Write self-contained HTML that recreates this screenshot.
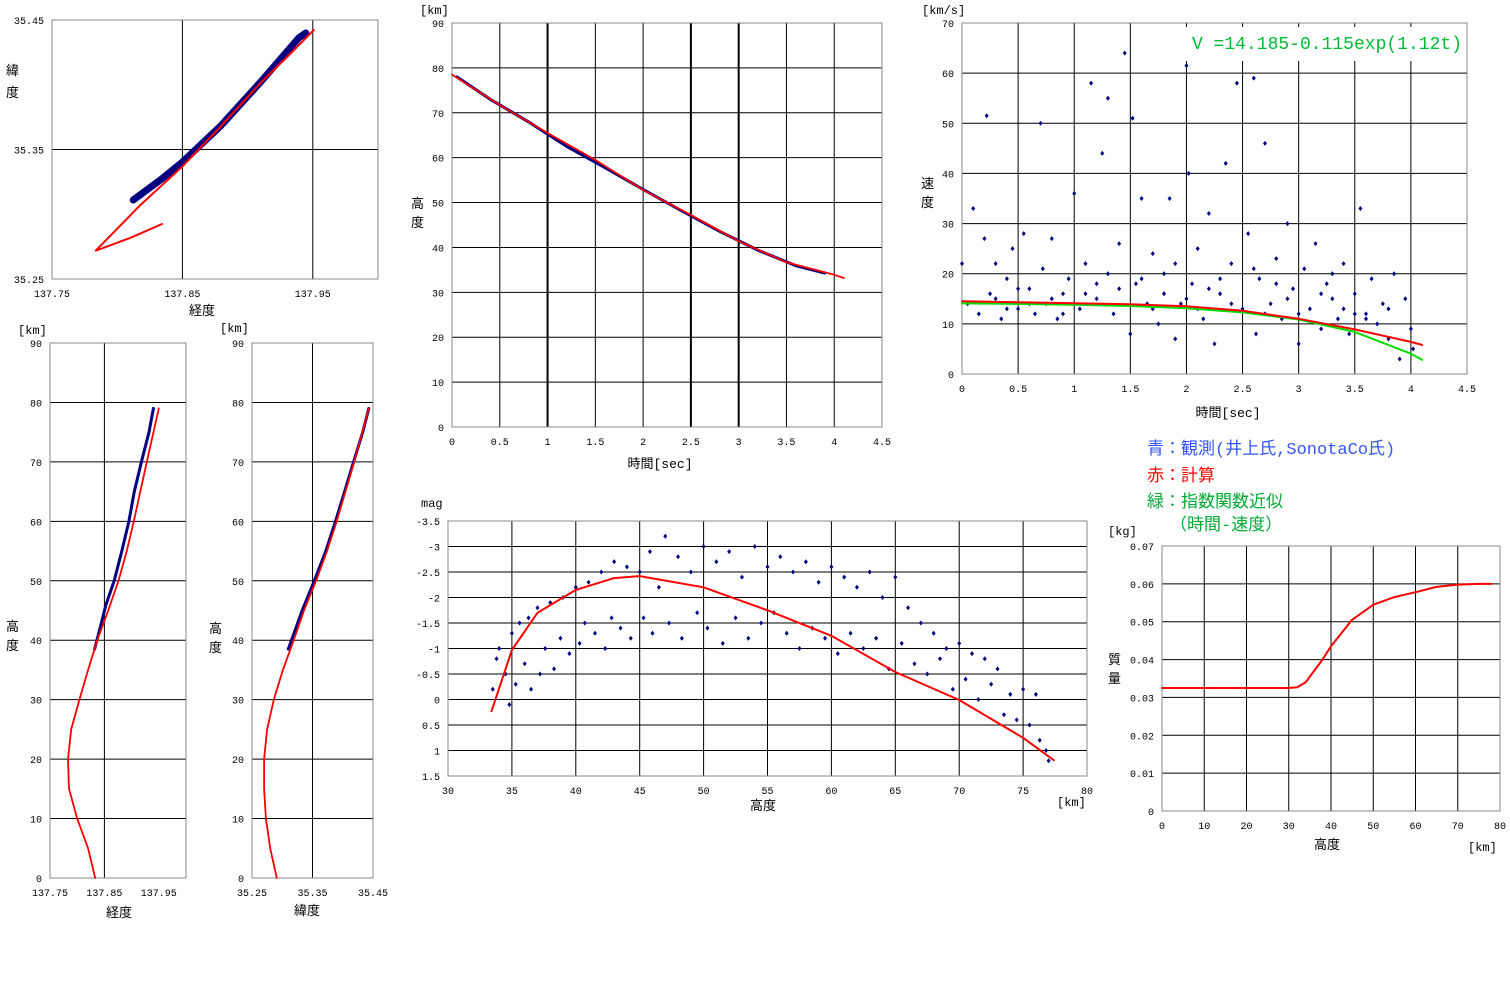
<!DOCTYPE html>
<html><head><meta charset="utf-8">
<style>
html,body{margin:0;padding:0;background:#fff;}
svg{display:block;font-family:"Liberation Mono","Noto Sans CJK JP",monospace;}
.tk{font-size:10px;fill:#000;}
.tt{font-size:13px;fill:#000;}
</style></head>
<body>
<svg id="s" width="1510" height="1000" viewBox="0 0 1510 1000" xmlns="http://www.w3.org/2000/svg"></svg>
<script>
// ---- data ----
const llRedLon=[137.8344,137.81,137.7892,137.7836,137.8177,137.8498,137.8792,137.91,137.9305,137.9508];
const llRedLat=[35.2925,35.2817,35.2739,35.2719,35.3071,35.3367,35.3676,35.4014,35.4217,35.4423];
const llObsLon=[137.8123,137.833,137.85,137.8792,137.91,137.9392,137.9446];
const llObsLat=[35.311,35.3264,35.3403,35.3681,35.4021,35.4361,35.44];

const taTime=[0,0.5,1,1.5,2,2.5,3,3.5,4,4.1];
const taAlt=[78.5,71.7,65.5,59.5,52.8,47.2,41.4,36.7,33.9,33.2];
const taObsTime=[0.05,0.4,0.8,1.2,1.6,2.0,2.4,2.8,3.2,3.6,3.9];
const taObsAlt=[78.0,73.0,68.0,62.5,57.8,52.9,48.2,43.6,39.4,35.9,34.3];

const vT=[0,0.05,0.1,0.15,0.2,0.22,0.25,0.3,0.35,0.4,0.45,0.5,0.55,0.6,0.65,0.7,0.72,0.75,0.8,0.85,0.9,0.95,1.0,1.05,1.1,1.15,1.2,1.25,1.3,1.35,1.4,1.45,1.5,1.52,1.55,1.6,1.65,1.7,1.75,1.8,1.85,1.9,1.95,2.0,2.02,2.05,2.1,2.15,2.2,2.25,2.3,2.35,2.4,2.45,2.5,2.55,2.6,2.62,2.65,2.7,2.75,2.8,2.85,2.9,2.95,3.0,3.05,3.1,3.15,3.2,3.25,3.3,3.35,3.4,3.45,3.5,3.55,3.6,3.65,3.7,3.75,3.8,3.85,3.9,3.95,4.0,4.02,0.3,0.6,0.9,1.2,1.4,1.6,1.8,2.0,2.2,2.4,2.6,2.8,3.0,3.2,3.4,3.6,3.8,1.1,1.7,2.3,2.9,3.5,0.8,0.4,1.3,2.7,3.3,2.1,1.9,0.5];
const vV=[22,14,33,12,27,51.5,16,22,11,19,25,13,28,17,12,50,21,14,27,11,16,19,36,13,22,58,15,44,55,12,26,64,8,51,18,35,14,24,10,20,35,7,14,61.5,40,18,25,11,32,6,16,42,22,58,13,28,59,8,19,46,14,23,11,30,17,6,21,13,26,9,18,15,11,22,8,16,33,12,19,10,14,7,20,3,15,9,5,15,14,12,18,17,19,16,15,17,14,21,18,12,16,13,11,13,16,13,19,15,12,15,13,20,12,20,13,22,17];
const vCalcT=[0,0.5,1,1.5,2,2.5,3,3.5,4,4.1];
const vCalcV=[14.5,14.3,14.1,13.9,13.5,12.6,11.0,8.9,6.4,5.8];
const vFitT=[0,0.5,1,1.5,2,2.5,3,3.5,4,4.1];
const vFitV=[14.07,13.98,13.83,13.57,13.10,12.29,10.87,8.39,4.04,2.83];

const laRedAlt=[0,5,10,15,20,25,30,35,40,45,50,55,60,70,79];
const laRedLon=[137.833,137.82,137.80,137.785,137.783,137.789,137.804,137.82,137.837,137.857,137.876,137.891,137.904,137.928,137.95];
const laObsAlt=[38.5,42,46,50,55,60,65,70,75,79];
const laObsLon=[137.832,137.842,137.853,137.868,137.882,137.895,137.905,137.918,137.932,137.94];
const latRedAlt=[0,5,10,15,20,25,30,35,40,45,50,55,60,70,79];
const latRedLat=[35.291,35.28,35.273,35.27,35.27,35.275,35.286,35.301,35.319,35.336,35.356,35.374,35.39,35.419,35.443];
const latObsAlt=[38.5,45,50,55,60,65,70,75,79];
const latObsLat=[35.31,35.333,35.353,35.372,35.388,35.403,35.418,35.433,35.443];

const mAlt=[33.5,33.8,34,34.5,34.8,35,35.3,35.6,36,36.3,36.5,37,37.2,37.6,38,38.3,38.8,39,39.5,40,40.3,40.7,41,41.5,42,42.3,42.8,43,43.5,44,44.3,45,45.3,45.8,46,46.5,47,47.3,48,48.3,49,49.5,50,50.3,51,51.5,52,52.5,53,53.5,54,54.5,55,55.5,56,56.5,57,57.5,58,58.5,59,59.5,60,60.5,61,61.5,62,62.5,63,63.5,64,64.5,65,65.5,66,66.5,67,67.5,68,68.5,69,69.5,70,70.5,71,71.5,72,72.5,73,73.5,74,74.5,75,75.5,76,76.3,76.8,77];
const mMag=[-0.2,-0.8,-1,-0.5,0.1,-1.3,-0.3,-1.5,-0.7,-1.6,-0.2,-1.8,-0.5,-1.0,-1.9,-0.6,-1.2,-2,-0.9,-2.2,-1.1,-1.5,-2.3,-1.3,-2.5,-1.0,-1.6,-2.7,-1.4,-2.6,-1.2,-2.5,-1.6,-2.9,-1.3,-2.2,-3.2,-1.5,-2.8,-1.2,-2.5,-1.7,-3,-1.4,-2.7,-1.1,-2.9,-1.6,-2.4,-1.2,-3,-1.5,-2.6,-1.7,-2.8,-1.3,-2.5,-1.0,-2.7,-1.4,-2.3,-1.2,-2.6,-0.9,-2.4,-1.3,-2.2,-1.0,-2.5,-1.2,-2.0,-0.6,-2.4,-1.1,-1.8,-0.7,-1.5,-0.5,-1.3,-0.8,-1.0,-0.2,-1.1,-0.4,-0.9,0.0,-0.8,-0.3,-0.6,0.3,-0.1,0.4,-0.2,0.5,-0.1,0.8,1.0,1.2];
const mRedAlt=[33.4,35,37,40,43,45,50,55,60,65,70,75,77.4];
const mRedMag=[0.23,-0.97,-1.7,-2.15,-2.38,-2.42,-2.2,-1.75,-1.25,-0.54,0.01,0.75,1.19];

const msAlt=[0,10,20,30,32,34,36,38,40,45,50,55,60,65,70,75,78];
const msMass=[0.0325,0.0325,0.0325,0.0325,0.0327,0.034,0.037,0.040,0.0435,0.0505,0.0545,0.0565,0.0578,0.0592,0.0598,0.06,0.06];

// ---- drawing ----
const NS='http://www.w3.org/2000/svg';
const svg=document.getElementById('s');
function mk(tag,attrs,parent){const e=document.createElementNS(NS,tag);for(const k in attrs)e.setAttribute(k,attrs[k]);(parent||svg).appendChild(e);return e;}
function txt(x,y,s,cls,anchor,parent,fill){const t=mk('text',{x:x,y:y,class:cls,'text-anchor':anchor||'start'},parent);if(fill)t.setAttribute('fill',fill),t.style.fill=fill;t.textContent=s;return t;}
function range(a,b,st){const r=[];for(let v=a;v<=b+1e-9;v+=st)r.push(+v.toFixed(6));return r;}

function chart(c){
  const g=mk('g',{});
  
  
  const sx=v=>c.x+(v-c.xmin)/(c.xmax-c.xmin)*c.w;
  const sy=v=>c.inv? c.y+(v-c.ymin)/(c.ymax-c.ymin)*c.h : c.y+c.h-(v-c.ymin)/(c.ymax-c.ymin)*c.h;
  c.vgrid.forEach(v=>{const l=mk('line',{x1:sx(v),x2:sx(v),y1:c.y,y2:c.y+c.h,stroke:'#000','stroke-width':(c.thick&&c.thick.includes(v))?2:1},g);
    
    });
  c.hgrid.forEach(v=>{const l=mk('line',{x1:c.x,x2:c.x+c.w,y1:sy(v),y2:sy(v),stroke:'#000','stroke-width':1},g);
    
    });
  const b=mk('rect',{x:c.x,y:c.y,width:c.w,height:c.h,fill:'none',stroke:'#888','stroke-width':1},g);
  
  
  c.xt.forEach((v,i)=>{const t=txt(sx(v),c.y+c.h+18,c.xl[i],'tk','middle',g);
    
    });
  c.yt.forEach((v,i)=>{const t=txt(c.x-8,sy(v)+4,c.yl[i],'tk','end',g);
    
    });
  return {g,sx,sy};
}
function line(ch,xs,ys,color,w,name){
  const p=xs.map((x,i)=>ch.sx(x).toFixed(1)+','+ch.sy(ys[i]).toFixed(1)).join(' ');
  const e=mk('polyline',{points:p,fill:'none',stroke:color,'stroke-width':w,'stroke-linejoin':'round','stroke-linecap':'round'},ch.g);
  
  
}
function pts(ch,xs,ys,name){
  xs.forEach((x,i)=>{const cx=ch.sx(x),cy=ch.sy(ys[i]);
    const e=mk('path',{d:`M${cx} ${cy-2.5}L${cx+2} ${cy}L${cx} ${cy+2.5}L${cx-2} ${cy}Z`,fill:'#000080'},ch.g);
    
    });
}
function label(x,y,s,size,fill,name,anchor){const t=txt(x,y,s,'tt',anchor||'start',null,fill);t.style.fontSize=size+'px';
  
  return t;}

// chart 1: lat-lon
const c1=chart({name:'lat-lon-chart',x:52,y:20,w:326,h:259,xmin:137.75,xmax:138.0,ymin:35.25,ymax:35.45,
  vgrid:[137.85,137.95],hgrid:[35.35],xt:[137.75,137.85,137.95],xl:['137.75','137.85','137.95'],yt:[35.25,35.35,35.45],yl:['35.25','35.35','35.45']});
line(c1,llObsLon,llObsLat,'#000080',7,'observed-track');
line(c1,llRedLon,llRedLat,'#ff0000',2,'calculated-track');
label(202,315,'経度',13,'#000','x-axis-title','middle');
label(6,75,'緯',13,'#000','y-axis-title-1');
label(6,97,'度',13,'#000','y-axis-title-2');

// chart 2: time-altitude
const c2=chart({name:'time-altitude-chart',x:452,y:23,w:430,h:404,xmin:0,xmax:4.5,ymin:0,ymax:90,
  vgrid:range(0.5,4.5,0.5),hgrid:range(10,90,10),thick:[1,2.5,3],xt:range(0,4.5,0.5),xl:['0','0.5','1','1.5','2','2.5','3','3.5','4','4.5'],yt:range(0,90,10),yl:range(0,90,10).map(String)});
line(c2,taObsTime,taObsAlt,'#000080',3,'observed-altitude');
line(c2,taTime,taAlt,'#ff0000',1.8,'calculated-altitude');
label(420,14,'[km]',12,'#000','y-unit');
label(411,208,'高',13,'#000','y-axis-title-1');
label(411,227,'度',13,'#000','y-axis-title-2');
label(660,468,'時間[sec]',13,'#000','x-axis-title','middle');

// chart 3: velocity
const c3=chart({name:'time-velocity-chart',x:962,y:23,w:505,h:351,xmin:0,xmax:4.5,ymin:0,ymax:70,
  vgrid:range(0.5,4,0.5),hgrid:range(10,60,10),xt:range(0,4.5,0.5),xl:['0','0.5','1','1.5','2','2.5','3','3.5','4','4.5'],yt:range(0,70,10),yl:range(0,70,10).map(String)});
const wb=mk('rect',{x:1168,y:27,width:297,height:34,fill:'#fff'},c3.g);


pts(c3,vT,vV,'velocity-point');
line(c3,vFitT,vFitV,'#00dd00',2,'exponential-fit');
line(c3,vCalcT,vCalcV,'#ff0000',2,'calculated-velocity');
label(1462,49,'V =14.185-0.115exp(1.12t)',18,'#00bb33','fit-equation','end');
label(922,14,'[km/s]',12,'#000','y-unit');
label(921,188,'速',13,'#000','y-axis-title-1');
label(921,207,'度',13,'#000','y-axis-title-2');
label(1228,417,'時間[sec]',13,'#000','x-axis-title','middle');

// legend
label(1147,454,'青：観測(井上氏,SonotaCo氏)',17,'#3355ff','legend-observed');
label(1147,481,'赤：計算',17,'#ff0000','legend-calculated');
label(1147,507,'緑：指数関数近似',17,'#00aa33','legend-fit');
label(1170,530,'（時間-速度）',17,'#00aa33','legend-fit-note');

// chart 4: lon-alt
const c4=chart({name:'longitude-altitude-chart',x:50,y:343,w:136,h:535,xmin:137.75,xmax:138.0,ymin:0,ymax:90,
  vgrid:[137.85],hgrid:range(10,80,10),xt:[137.75,137.85,137.95],xl:['137.75','137.85','137.95'],yt:range(0,90,10),yl:range(0,90,10).map(String)});
line(c4,laObsLon,laObsAlt,'#000080',3,'observed-longitude');
line(c4,laRedLon,laRedAlt,'#ff0000',1.8,'calculated-longitude');
label(18,334,'[km]',12,'#000','y-unit');
label(6,631,'高',13,'#000','y-axis-title-1');
label(6,650,'度',13,'#000','y-axis-title-2');
label(119,917,'経度',13,'#000','x-axis-title','middle');

// chart 5: lat-alt
const c5=chart({name:'latitude-altitude-chart',x:252,y:343,w:121,h:535,xmin:35.25,xmax:35.45,ymin:0,ymax:90,
  vgrid:[35.35],hgrid:range(10,80,10),xt:[35.25,35.35,35.45],xl:['35.25','35.35','35.45'],yt:range(0,90,10),yl:range(0,90,10).map(String)});
line(c5,latObsLat,latObsAlt,'#000080',3,'observed-latitude');
line(c5,latRedLat,latRedAlt,'#ff0000',1.8,'calculated-latitude');
label(220,332,'[km]',12,'#000','y-unit');
label(209,633,'高',13,'#000','y-axis-title-1');
label(209,652,'度',13,'#000','y-axis-title-2');
label(307,915,'緯度',13,'#000','x-axis-title','middle');

// chart 6: magnitude
const c6=chart({name:'magnitude-altitude-chart',x:448,y:521,w:639,h:255,xmin:30,xmax:80,ymin:-3.5,ymax:1.5,inv:true,
  vgrid:range(35,75,5),hgrid:range(-3,1,0.5),xt:range(30,80,5),xl:range(30,80,5).map(String),yt:range(-3.5,1.5,0.5),yl:['-3.5','-3','-2.5','-2','-1.5','-1','-0.5','0','0.5','1','1.5']});
pts(c6,mAlt,mMag,'magnitude-point');
line(c6,mRedAlt,mRedMag,'#ff0000',2,'calculated-magnitude');
label(421,507,'mag',12,'#000','y-unit');
label(763,810,'高度',13,'#000','x-axis-title','middle');
label(1057,806,'[km]',12,'#000','x-unit');

// chart 7: mass
const c7=chart({name:'mass-altitude-chart',x:1162,y:546,w:338,h:265,xmin:0,xmax:80,ymin:0,ymax:0.07,
  vgrid:range(10,70,10),hgrid:range(0.01,0.06,0.01),xt:range(0,80,10),xl:range(0,80,10).map(String),yt:range(0,0.07,0.01),yl:['0','0.01','0.02','0.03','0.04','0.05','0.06','0.07']});
line(c7,msAlt,msMass,'#ff0000',2,'calculated-mass');
label(1108,535,'[kg]',12,'#000','y-unit');
label(1108,664,'質',13,'#000','y-axis-title-1');
label(1108,683,'量',13,'#000','y-axis-title-2');
label(1327,849,'高度',13,'#000','x-axis-title','middle');
label(1468,851,'[km]',12,'#000','x-unit');
</script>
</body></html>
